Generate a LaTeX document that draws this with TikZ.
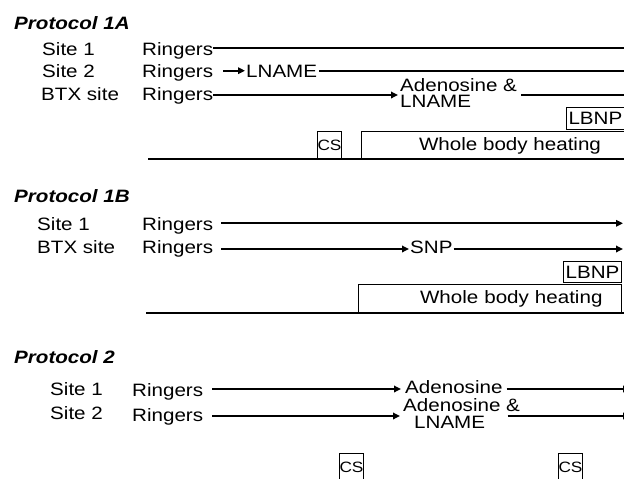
\documentclass[tikz,border=0pt]{standalone}
\usepackage{fontspec}
\setmainfont{Liberation Sans}[FakeStretch=1.15]
\usetikzlibrary{arrows.meta}
\begin{document}
\begin{tikzpicture}[x=1pt,y=-1pt,
  lbl/.style={anchor=base west,inner sep=0pt,font=\fontsize{17.9}{16.3}\selectfont},
  ttl/.style={anchor=base west,inner sep=0pt,font=\fontsize{17.9}{18}\selectfont\bfseries\itshape},
  tl/.style={line width=1.7pt},
  arr/.style={line width=1.7pt,-{Triangle[length=7pt,width=6.5pt]}},
  boxn/.style={draw,line width=1pt,anchor=north west,inner ysep=0pt,inner xsep=2pt,font=\fontsize{17.9}{16.3}\selectfont},
  csbox/.style={draw,line width=1pt,anchor=north west,inner sep=0pt,font=\fontsize{15}{15}\selectfont}]
\useasboundingbox (0,0) rectangle (624,479);
\clip (0,0) rectangle (624,479);
\coordinate (edge) at (626,0);
\coordinate (eb) at (623,0);
\coordinate (ec) at (630,0);

% ---------------- Protocol 1A
\node[ttl] (pa) at (14,29) {Protocol 1A};
\node[lbl] (pa1) at (42,55) {Site 1};
\node[lbl] (pa2) at (42,77) {Site 2};
\node[lbl] (pa3) at (41,100) {BTX site};
\node[lbl] (ra1) at (142,55) {Ringers};
\node[lbl] (ra2) at (142,77) {Ringers};
\node[lbl] (ra3) at (142,100) {Ringers};
\node[lbl] (lna) at (246,77) {LNAME};
\node[lbl,align=left,anchor=north west] (ada) at (400,78) {Adenosine \&\\LNAME};

\coordinate (a1s) at ([yshift=6.7pt]ra1.base east);
\draw[tl] (a1s) -- (a1s -| edge);
\draw[arr] ([xshift=10pt,yshift=6.3pt]ra2.base east) -- ([xshift=-1pt,yshift=6.3pt]lna.base west);
\coordinate (a2s) at ([xshift=2pt,yshift=6.3pt]lna.base east);
\draw[tl] (a2s) -- (a2s -| edge);
\draw[arr] ([yshift=5pt]ra3.base east) -- ([xshift=-2pt,yshift=-17pt]ada.north west);
\coordinate (a3s) at ([xshift=4pt,yshift=-17pt]ada.north east);
\draw[tl] (a3s) -- (a3s -| edge);

\node[boxn,text width=56pt,align=left,minimum height=22pt] (lbnpa) at (566,107) {LBNP};
\node[boxn,minimum width=297pt,minimum height=28.6pt] (wbha) at (361,130.7) {Whole body heating};
\node[csbox,minimum width=22pt,minimum height=28.6pt] (csa) at (317,130.7) {CS};
\coordinate (ba) at (148,159.3);
\draw[tl] (ba) -- (ba -| edge);

% ---------------- Protocol 1B
\node[ttl] (pb) at (14,202) {Protocol 1B};
\node[lbl] (pb1) at (37,230) {Site 1};
\node[lbl] (pb2) at (37,253) {BTX site};
\node[lbl] (rb1) at (142,230) {Ringers};
\node[lbl] (rb2) at (142,253) {Ringers};
\node[lbl] (snp) at (410,253) {SNP};

\coordinate (b1s) at ([xshift=8pt,yshift=6.7pt]rb1.base east);
\draw[arr] (b1s) -- (b1s -| eb);
\draw[arr] ([xshift=8pt,yshift=4pt]rb2.base east) -- ([xshift=-1pt,yshift=4pt]snp.base west);
\coordinate (b2s) at ([xshift=1pt,yshift=4pt]snp.base east);
\draw[arr] (b2s) -- (b2s -| eb);

\node[boxn,minimum width=58pt,minimum height=21pt] (lbnpb) at (563,261) {LBNP};
\node[boxn,text width=225pt,align=right,inner xsep=19pt,minimum height=29pt] (wbhb) at (358,283.7) {Whole body heating};
\coordinate (bb) at (146,312.7);
\draw[tl] (bb) -- (bb -| edge);

% ---------------- Protocol 2
\node[ttl] (pc) at (14,363) {Protocol 2};
\node[lbl] (pc1) at (50,395) {Site 1};
\node[lbl] (pc2) at (50,419) {Site 2};
\node[lbl] (rc1) at (132,396) {Ringers};
\node[lbl] (rc2) at (132,421) {Ringers};
\node[lbl] (adc1) at (405,393) {Adenosine};
\node[lbl,align=left,anchor=north west,font=\fontsize{17.9}{17}\selectfont] (adc2) at (403,398.3) {Adenosine \&\\\hspace*{11pt}LNAME};

\draw[arr] ([xshift=9pt,yshift=7pt]rc1.base east) -- ([xshift=-4pt,yshift=4pt]adc1.base west);
\coordinate (c1s) at ([xshift=4pt,yshift=4pt]adc1.base east);
\draw[arr] (c1s) -- (c1s -| ec);
\draw[arr] ([xshift=9pt,yshift=5pt]rc2.base east) -- ([xshift=-3pt,yshift=-17.7pt]adc2.north west);
\coordinate (c2s) at ([xshift=-12.4pt,yshift=-17.7pt]adc2.north east);
\draw[arr] (c2s) -- (c2s -| ec);

\node[csbox,minimum width=23pt,minimum height=27pt] (csc1) at (339,453) {CS};
\node[csbox,minimum width=23pt,minimum height=27pt] (csc2) at (558,453) {CS};
\end{tikzpicture}
\end{document}
